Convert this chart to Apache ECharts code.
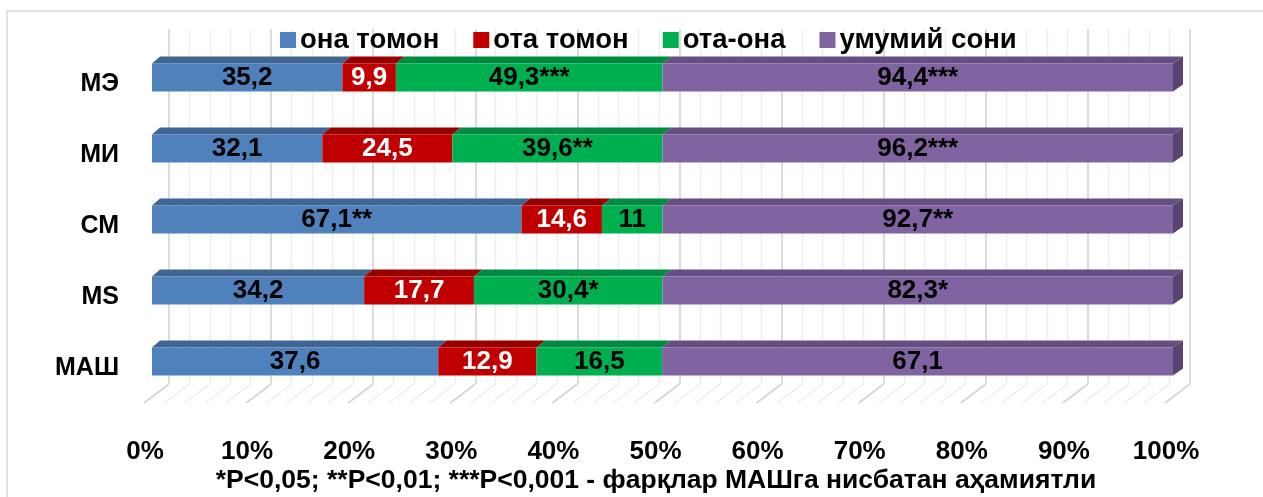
<!DOCTYPE html>
<html>
<head>
<meta charset="utf-8">
<script src="https://cdn.jsdelivr.net/npm/echarts@6/dist/echarts.min.js"></script>
<style>
html,body{margin:0;padding:0;background:#fff;}
#main{width:1263px;height:497px;}
</style>
</head>
<body>
<div id="main"></div>
<script>
// ---- data ----
const categories = ['МЭ', 'МИ', 'СМ', 'MS', 'МАШ'];
const seriesNames = ['она томон', 'ота томон', 'ота-она', 'умумий сони'];
const onaTomon = [35.2, 32.1, 67.1, 34.2, 37.6];
const otaTomon = [9.9, 24.5, 14.6, 17.7, 12.9];
const otaOna = [49.3, 39.6, 11, 30.4, 16.5];
const umumiySoni = [94.4, 96.2, 92.7, 82.3, 67.1];
const onaSig = ['', '', '**', '', ''];
const otaSig = ['', '', '', '', ''];
const otaOnaSig = ['***', '**', '', '*', ''];
const umumiySig = ['***', '***', '**', '*', ''];
const xTickLabels = ['0%', '10%', '20%', '30%', '40%', '50%', '60%', '70%', '80%', '90%', '100%'];
const footnote = '*P<0,05; **P<0,01; ***P<0,001 - фарқлар МАШга нисбатан аҳамиятли';

// ---- styling ----
const FONT = '"Liberation Sans Narrow", "Arial Narrow", "Liberation Sans", sans-serif';
const colors = ['#4F81BD', '#C00000', '#00B050', '#8064A2'];
const topColors = ['#3F6594', '#980000', '#008A42', '#654F82'];
const sideColor = '#574470';
const labelColors = ['#000', '#fff', '#000', '#000'];

const values = [onaTomon, otaTomon, otaOna, umumiySoni];
const sigs = [onaSig, otaSig, otaOnaSig, umumiySig];
const totals = categories.map((c, i) => values.reduce((s, arr) => s + arr[i], 0));
const pct = values.map(arr => arr.map((v, i) => v / totals[i] * 100));

const fmt = v => String(v).replace('.', ',');

const barSeries = values.map((arr, si) => ({
  name: seriesNames[si],
  type: 'bar',
  stack: 'total',
  xAxisIndex: 0, yAxisIndex: 0,
  barWidth: 28,
  itemStyle: { color: colors[si] },
  data: pct[si],
  z: 3,
  label: {
    show: true,
    position: 'inside',
    color: labelColors[si],
    fontFamily: FONT,
    fontWeight: 'bold',
    fontSize: 26,
    formatter: p => fmt(arr[p.dataIndex]) + sigs[si][p.dataIndex]
  }
}));

// 3D faces (top faces + right side face) derived from stacked percentages
const faceData = [];
categories.forEach((c, ci) => {
  let start = 0;
  for (let si = 0; si < values.length; si++) {
    const end = start + pct[si][ci];
    faceData.push([start, end, ci, si]);
    start = end;
  }
});

const BAR_HALF = 14, DEPTH_Y = 7;

const faceSeries = {
  type: 'custom',
  xAxisIndex: 0, yAxisIndex: 0,
  z: 2,
  silent: true,
  encode: { x: [0, 1], y: 2 },
  data: faceData,
  renderItem: function (params, api) {
    const cs = params.coordSys;
    const dx = x => 8 + 2 * (x - cs.x) / cs.width;
    const s = api.coord([api.value(0), api.value(2)]);
    const e = api.coord([api.value(1), api.value(2)]);
    const si = api.value(3);
    const yTop = s[1] - BAR_HALF, yBot = s[1] + BAR_HALF;
    const children = [{
      type: 'polygon',
      shape: { points: [[s[0], yTop], [s[0] + dx(s[0]), yTop - DEPTH_Y], [e[0] + dx(e[0]), yTop - DEPTH_Y], [e[0], yTop]] },
      style: { fill: topColors[si] }
    }];
    if (si === values.length - 1) {
      children.push({
        type: 'polygon',
        shape: { points: [[e[0], yTop], [e[0] + dx(e[0]), yTop - DEPTH_Y], [e[0] + dx(e[0]), yBot - DEPTH_Y], [e[0], yBot]] },
        style: { fill: sideColor }
      });
    }
    return { type: 'group', children: children };
  }
};

// floor lines from the back wall gridlines
const floorSeries = {
  type: 'custom',
  xAxisIndex: 1, yAxisIndex: 1,
  z: 1,
  silent: true,
  data: [[0, 0]],
  renderItem: function (params, api) {
    const cs = params.coordSys;
    const bottom = cs.y + cs.height;
    const children = [];
    for (let v = 0; v <= 100; v += 2) {
      const x = api.coord([v, 0])[0];
      const major = v % 10 === 0;
      children.push({
        type: 'line',
        shape: { x1: x, y1: bottom, x2: x - 25, y2: bottom + 19 },
        style: { stroke: major ? '#d4d4d4' : '#ececec', lineWidth: major ? 1.6 : 1.4 }
      });
    }
    return { type: 'group', children: children };
  }
};

const chart = echarts.init(document.getElementById('main'), null, { renderer: 'canvas' });
chart.setOption({
  animation: false,
  backgroundColor: '#fff',
  title: {
    text: footnote,
    left: 651,
    textAlign: 'center',
    top: 462,
    textStyle: { fontFamily: FONT, fontWeight: 'bold', fontSize: 26.5, color: '#000' }
  },
  legend: {
    data: seriesNames,
    left: 280,
    top: 26,
    padding: 0,
    itemWidth: 16,
    itemHeight: 16,
    itemGap: 34,
    icon: 'rect',
    textStyle: { fontFamily: FONT, fontWeight: 'bold', fontSize: 27.5, color: '#000', padding: [0, 0, 0, -1] }
  },
  graphic: [{
    type: 'rect',
    shape: { x: 7, y: 11, width: 1400, height: 600 },
    style: { fill: 'none', stroke: '#d9d9d9', lineWidth: 1.5 },
    z: 0, silent: true
  }],
  grid: [
    { left: 152, right: 90, top: 42, height: 355 },
    { left: 169, right: 73, top: 29, height: 355 },
    { left: 145, right: 97, top: 390, height: 13 }
  ],
  xAxis: [
    { gridIndex: 0, type: 'value', min: 0, max: 100, show: false },
    {
      gridIndex: 1, type: 'value', min: 0, max: 100, interval: 10,
      axisLine: { show: false }, axisTick: { show: false }, axisLabel: { show: false },
      splitLine: { show: true, lineStyle: { color: '#d4d4d4', width: 1.6 } },
      minorTick: { show: false, splitNumber: 5 },
      minorSplitLine: { show: true, lineStyle: { color: '#ececec', width: 1.4 } }
    },
    {
      gridIndex: 2, type: 'value', min: 0, max: 100, interval: 10,
      axisLine: { show: false }, axisTick: { show: false }, splitLine: { show: false },
      axisLabel: {
        margin: 36,
        fontFamily: FONT, fontWeight: 'bold', fontSize: 26, color: '#000', lineHeight: 26,
        formatter: (v) => xTickLabels[Math.round(v / 10)]
      }
    }
  ],
  yAxis: [
    {
      gridIndex: 0, type: 'category', data: categories, inverse: true,
      axisLine: { show: false }, axisTick: { show: false }, splitLine: { show: false },
      axisLabel: {
        margin: 33,
        formatter: v => '{c|' + v + '}',
        rich: {
          c: { fontFamily: FONT, fontWeight: 'bold', fontSize: 25, color: '#000', padding: [14, 0, 0, 0] }
        }
      }
    },
    { gridIndex: 1, type: 'value', min: 0, max: 1, show: false },
    { gridIndex: 2, type: 'value', min: 0, max: 1, show: false }
  ],
  series: barSeries.concat([faceSeries, floorSeries])
});
</script>
</body>
</html>
